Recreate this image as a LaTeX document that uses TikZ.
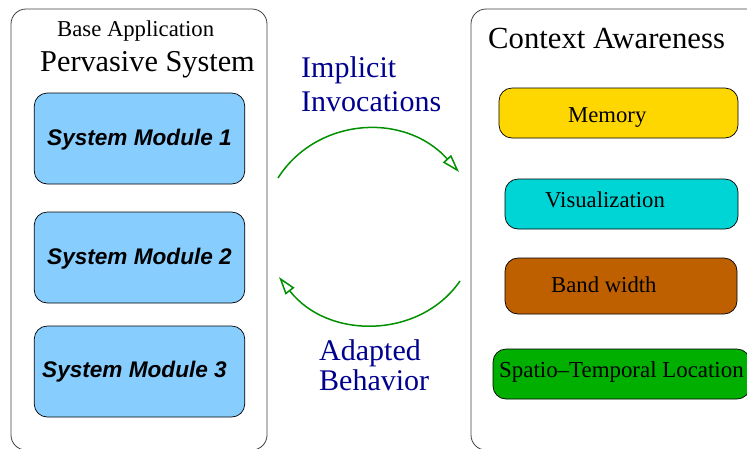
\documentclass[tikz,border=0pt]{standalone}
\usepackage{fontspec}
\setmainfont{Liberation Serif}
\setsansfont{Liberation Sans}
\usetikzlibrary{arrows.meta}
\definecolor{modblue}{HTML}{87CEFF}
\definecolor{memgold}{HTML}{FFD700}
\definecolor{viscyan}{HTML}{00D5D5}
\definecolor{bandbrown}{HTML}{BF6000}
\definecolor{spatgreen}{HTML}{00AF00}
\definecolor{arcgreen}{HTML}{009000}
\definecolor{labelblue}{HTML}{00008F}
\tikzset{
  panel/.style={draw=black!75,line width=0.8pt,rounded corners=15pt,inner sep=0pt,fill=white},
  box/.style={draw=black,line width=0.7pt,rounded corners=13pt,inner sep=0pt},
  modtext/.style={anchor=base west,inner sep=0pt,font=\fontsize{22.6}{22.6}\selectfont\sffamily\bfseries\itshape},
  ctxtext/.style={anchor=base west,inner sep=0pt,font=\fontsize{22.7}{22.7}\selectfont},
  titletext/.style={anchor=base west,inner sep=0pt,font=\fontsize{30.3}{30.3}\selectfont},
  flowtext/.style={anchor=base west,inner sep=0pt,text=labelblue,font=\fontsize{30}{30}\selectfont},
  flow/.style={draw=arcgreen,line width=1.5pt,-{Triangle[open,fill=white,length=18pt,width=11pt]}}
}
\begin{document}
\begin{tikzpicture}[x=1pt,y=-1pt]
\useasboundingbox (0,0) rectangle (747,448);
\clip (0,0) rectangle (747,448);
\node[panel,minimum width=256pt,minimum height=441pt] (base) at (139,229.5) {};
\node[panel,minimum width=300pt,minimum height=441pt] (ctx) at (621,229.5) {};
\node[box,fill=modblue,minimum width=210.5pt,minimum height=91pt] (m1) at (139.5,138.5) {};
\node[box,fill=modblue,minimum width=210.5pt,minimum height=91pt] (m2) at (139.5,257.5) {};
\node[box,fill=modblue,minimum width=210.5pt,minimum height=91pt] (m3) at (139.5,371.5) {};
\node[box,fill=memgold,minimum width=239pt,minimum height=50pt] (mem) at (618.5,113) {};
\node[box,fill=viscyan,minimum width=233pt,minimum height=50pt] (vis) at (621.5,204) {};
\node[box,fill=bandbrown,minimum width=232pt,minimum height=56pt] (band) at (621,286) {};
\node[box,fill=spatgreen,minimum width=257pt,minimum height=50pt] (spat) at (621.5,374) {};
\node[ctxtext] (tbase) at (57,36) {Base Application};
\node[titletext] (tperv) at (40,71) {Pervasive System};
\node[titletext,font=\fontsize{30.7}{30.7}\selectfont] (tctx) at (488,48) {Context Awareness};
\node[modtext] (t1) at (47,145) {System Module 1};
\node[modtext] (t2) at (47,264) {System Module 2};
\node[modtext] (t3) at (42,377) {System Module 3};
\node[ctxtext] (tmem) at (568,122) {Memory};
\node[ctxtext] (tvis) at (545,207) {Visualization};
\node[ctxtext] (tband) at (551,292) {Band width};
\node[ctxtext,font=\fontsize{22.9}{22.9}\selectfont] (tspat) at (499,377) {Spatio--Temporal Location};
\node[flowtext] (l1) at (301,77) {Implicit};
\node[flowtext] (l2) at (301,111) {Invocations};
\node[flowtext] (l3) at (319,360) {Adapted};
\node[flowtext] (l4) at (319,390) {Behavior};
\coordinate (a1) at (278,178);
\coordinate (a2) at (459,172);
\coordinate (b1) at (460,281);
\coordinate (b2) at (279,277);
\draw[flow] (a1) .. controls (316,118) and (404,111) .. (a2);
\draw[flow] (b1) .. controls (420,339) and (328,340) .. (b2);
\end{tikzpicture}
\end{document}
